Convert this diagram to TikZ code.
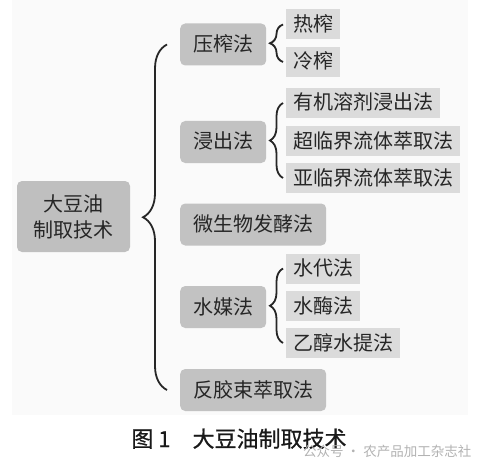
\documentclass[tikz,border=0pt]{standalone}
\usepackage{fontspec}
\newfontfamily\cjk{Noto Sans CJK SC}
\newfontfamily\cjkcap{Noto Sans CJK SC}[FakeBold=0.7]
\usetikzlibrary{decorations.pathreplacing}

\begin{document}
\begin{tikzpicture}[
  x=1pt, y=-1pt,
  every node/.style={font=\cjk\fontsize{20}{26}\selectfont, text=black!85, inner sep=0pt, text height=17pt, text depth=3pt},
  root/.style={fill=black!25, rounded corners=5pt, minimum width=113pt, minimum height=71pt, align=center, text height=, text depth=},
  method/.style={fill=black!24, rounded corners=5pt, anchor=west, inner xsep=13pt, minimum height=42pt},
  sub/.style={fill=black!14, anchor=west, inner xsep=7pt, minimum height=30pt},
  bracket/.style={draw=black!85, line width=1.8pt, decorate, decoration={brace, amplitude=#1, aspect=0.5}}
]
\useasboundingbox (0,0) rectangle (487,468);
\fill[black!2] (12,0) rectangle (468,415);

\node[root] (root) at (73.5,216.5) {大豆油\\制取技术};

\node[method] (yazha) at (180,44.5) {压榨法};
\node[method] (jinchu) at (180,142) {浸出法};
\node[method] (weisheng) at (180,224.5) {微生物发酵法};
\node[method] (shuimei) at (180,307) {水媒法};
\node[method] (fanjiao) at (180,390) {反胶束萃取法};

\node[sub] (rezha) at (286,24.5) {热榨};
\node[sub] (lengzha) at (286,62) {冷榨};
\node[sub] (youji) at (286,103) {有机溶剂浸出法};
\node[sub] (chaolin) at (286,141) {超临界流体萃取法};
\node[sub] (yalin) at (286,178) {亚临界流体萃取法};
\node[sub] (shuidai) at (286,268.5) {水代法};
\node[sub] (shuimeifa) at (286,306) {水酶法};
\node[sub] (yichun) at (286,343) {乙醇水提法};

\draw[bracket=24pt] ([xshift=-13pt]fanjiao.west) -- ([xshift=-13pt]yazha.west);
\draw[bracket=13pt] ([xshift=-3pt]lengzha.west) -- ([xshift=-3pt]rezha.west);
\draw[bracket=13pt] ([xshift=-3pt]yalin.west) -- ([xshift=-3pt]youji.west);
\draw[bracket=13pt] ([xshift=-3pt]yichun.west) -- ([xshift=-3pt]shuidai.west);

\node[font=\cjkcap\fontsize{22}{26}\selectfont, text=black!90] (caption) at (239,440) {图 1\hspace{1em}大豆油制取技术};
\node[font=\cjk\fontsize{13.5}{16}\selectfont, text=black!30, anchor=west] (mark) at (303,449) {公众号 · 农产品加工杂志社};
\end{tikzpicture}
\end{document}
